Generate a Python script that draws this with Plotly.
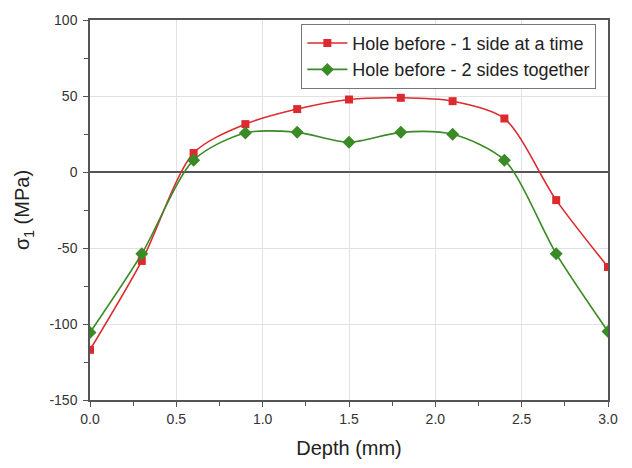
import plotly.graph_objects as go

# Depth positions (mm) and first principal stress (MPa)
depth = [0.0, 0.3, 0.6, 0.9, 1.2, 1.5, 1.8, 2.1, 2.4, 2.7, 3.0]
sigma_one_side = [-117, -58.5, 12.5, 31.5, 41.4, 47.7, 48.8, 46.6, 35.2, -18.5, -62.5]
sigma_two_sides = [-105.6, -53.8, 7.8, 25.7, 26.1, 19.6, 26.1, 24.8, 7.8, -53.8, -104.9]

series_names = ["Hole before - 1 side at a time", "Hole before - 2 sides together"]

x_ticks = [0.0, 0.5, 1.0, 1.5, 2.0, 2.5, 3.0]
x_labels = ["0.0", "0.5", "1.0", "1.5", "2.0", "2.5", "3.0"]
y_ticks = [100, 50, 0, -50, -100, -150]
y_labels = ["100", "50", "0", "-50", "-100", "-150"]

RED = "#dc2a2e"
GREEN = "#3a8a26"
FONT = "Arial, Liberation Sans, sans-serif"

fig = go.Figure()
fig.add_trace(go.Scatter(
    x=depth, y=sigma_one_side, name=series_names[0],
    mode="lines+markers",
    line=dict(color=RED, width=1.6, shape="spline", smoothing=0.8),
    marker=dict(symbol="square", size=8, color=RED),
))
fig.add_trace(go.Scatter(
    x=depth, y=sigma_two_sides, name=series_names[1],
    mode="lines+markers",
    line=dict(color=GREEN, width=1.6, shape="spline", smoothing=0.8),
    marker=dict(symbol="diamond", size=10, color=GREEN),
))

axis_common = dict(
    showline=True, linecolor="#555555", linewidth=1.5, mirror=True,
    ticks="outside", ticklen=5, tickcolor="#555555", tickwidth=1,
    showgrid=True, gridcolor="#e2e2e2", gridwidth=1,
    tickfont=dict(family=FONT, size=14, color="#333333"),
)

fig.update_xaxes(
    range=[0, 3.0], tickvals=x_ticks, ticktext=x_labels, zeroline=False,
    title=dict(text="Depth (mm)", standoff=15,
               font=dict(family=FONT, size=20, color="#222222")),
    minor=dict(tickvals=[0.25, 0.75, 1.25, 1.75, 2.25, 2.75],
               ticks="outside", ticklen=4, tickcolor="#555555", showgrid=False),
    **axis_common,
)
fig.update_yaxes(
    range=[-150, 100], tickvals=y_ticks, ticktext=y_labels,
    zeroline=True, zerolinecolor="#555555", zerolinewidth=1.5,
    ticklabelstandoff=3,
    title=dict(text="σ<sub>1</sub> (MPa)", standoff=14,
               font=dict(family=FONT, size=20, color="#222222")),
    minor=dict(tickvals=[75, 25, -25, -75, -125],
               ticks="outside", ticklen=4, tickcolor="#555555", showgrid=False),
    **axis_common,
)

fig.update_layout(
    width=632, height=468,
    margin=dict(l=90, r=24, t=17, b=65),
    paper_bgcolor="white", plot_bgcolor="white",
    showlegend=True,
    legend=dict(
        x=0.408, y=0.99, xanchor="left", yanchor="top",
        bgcolor="white", bordercolor="#777777", borderwidth=1,
        font=dict(family=FONT, size=18, color="#222222"),
        tracegroupgap=0, itemwidth=40,
    ),
)

fig.write_html("out.html")
